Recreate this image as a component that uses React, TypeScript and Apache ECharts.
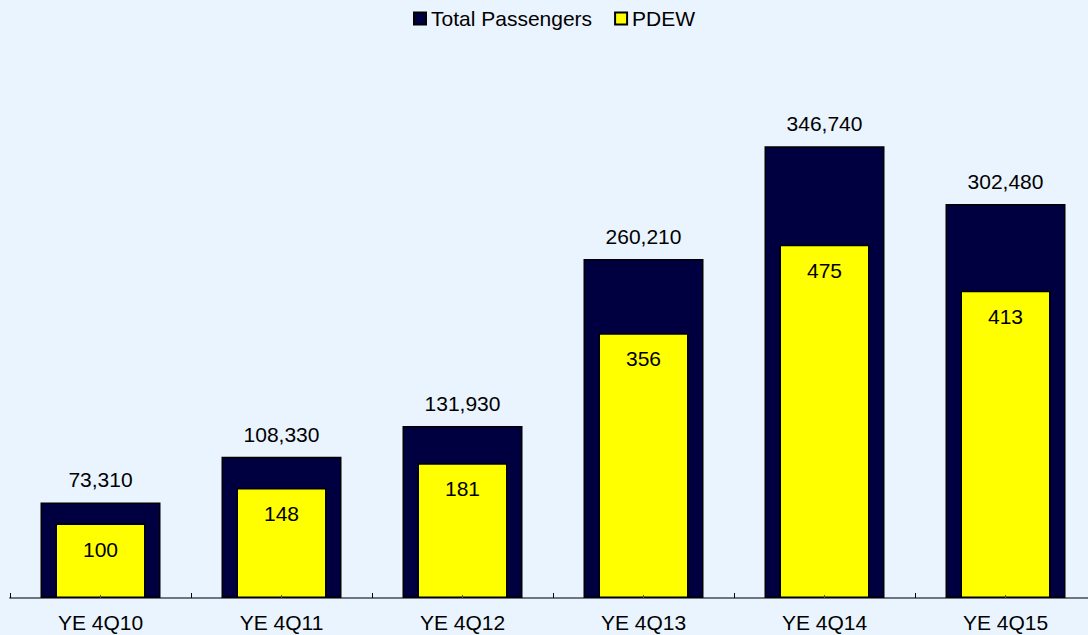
import React, { useEffect, useRef } from "react";
import * as echarts from "echarts";

const categories = ["YE 4Q10", "YE 4Q11", "YE 4Q12", "YE 4Q13", "YE 4Q14", "YE 4Q15"];
const totalPassengers = [73310, 108330, 131930, 260210, 346740, 302480];
const pdew = [100, 148, 181, 356, 475, 413];

const FONT = "'Liberation Sans', Arial, sans-serif";
const FS = 21;

export default function App() {
  const ref = useRef<HTMLDivElement>(null);
  useEffect(() => {
    document.body.style.margin = "0";
    document.body.style.overflow = "hidden";
    document.documentElement.style.overflow = "hidden";
    if (!ref.current) return;
    const chart = echarts.init(ref.current, undefined, { renderer: "svg" });
    chart.setOption({
      animation: false,
      backgroundColor: "#EAF4FE",
      textStyle: { fontFamily: FONT },
      legend: {
        top: 3,
        left: 408,
        icon: "rect",
        itemWidth: 12,
        itemHeight: 12,
        itemGap: 22,
        textStyle: { fontSize: FS, color: "#000", fontFamily: FONT },
        data: ["Total Passengers", "PDEW"],
      },
      grid: { left: 10, width: 1086, top: 58, bottom: 37 },
      xAxis: [
        {
          type: "category",
          data: categories,
          axisLine: { show: true, lineStyle: { color: "#6E7681", width: 2 } },
          axisTick: { show: true, inside: true, length: 5, lineStyle: { color: "#000", width: 1 } },
          axisLabel: { fontSize: FS, color: "#000", margin: 14, fontFamily: FONT },
          splitLine: { show: false },
        },
        {
          type: "category",
          data: categories,
          position: "bottom",
          z: 10,
          axisLine: { show: false },
          axisTick: { show: true, inside: true, alignWithLabel: true, length: 3, lineStyle: { color: "#555", width: 1 } },
          axisLabel: { show: false },
          splitLine: { show: false },
        },
      ],
      yAxis: [
        { type: "value", min: 0, max: 414450, show: false, splitLine: { show: false } },
        { type: "value", min: 0, max: 726, show: false, splitLine: { show: false } },
      ],
      series: [
        {
          name: "Total Passengers",
          type: "bar",
          xAxisIndex: 0,
          yAxisIndex: 0,
          barWidth: 120,
          data: totalPassengers,
          itemStyle: { color: "#000040", borderColor: "#000", borderWidth: 1.5 },
          label: {
            show: true,
            position: "top",
            distance: 12,
            fontSize: FS,
            color: "#000",
            fontFamily: FONT,
            formatter: (p: any) => Number(p.value).toLocaleString("en-US"),
          },
        },
        {
          name: "PDEW",
          type: "bar",
          xAxisIndex: 1,
          yAxisIndex: 1,
          barWidth: 90,
          data: pdew,
          itemStyle: { color: "#FFFF00", borderColor: "#000", borderWidth: 1.5 },
          label: {
            show: true,
            position: "insideTop",
            distance: 15,
            fontSize: FS,
            color: "#000",
            fontFamily: FONT,
          },
        },
      ],
    });
    return () => chart.dispose();
  }, []);
  return <div ref={ref} style={{ position: "absolute", left: 0, top: 0, width: 1100, height: 635 }} />;
}
